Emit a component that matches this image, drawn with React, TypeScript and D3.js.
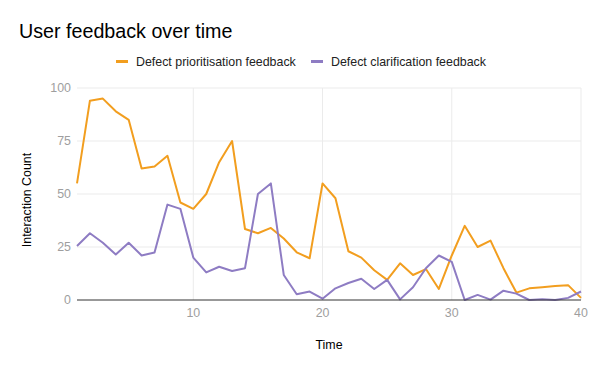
import React, { useEffect, useRef } from "react";
import * as d3 from "d3";

const times = d3.range(1, 41);
const prioritisation = [55, 94, 95, 89, 85, 62, 63, 68, 46, 43, 50, 65, 75, 33.5, 31.5, 34, 29, 22.5, 19.7, 55,
  48, 23, 20, 14, 9.5, 17.3, 11.8, 14.6, 5.2, 21, 35, 25, 28, 15, 3.5, 5.5, 6, 6.6, 7, 1];
const clarification = [25.5, 31.5, 27, 21.5, 27, 21, 22.4, 45, 43, 20, 13, 15.7, 13.7, 15, 50, 55, 11.8, 2.7, 4, 0.6,
  5.5, 8, 10, 5.2, 9.5, 0.3, 6, 15, 21, 18, 0, 2.4, 0.2, 4.4, 3, 0, 0.3, 0, 1, 4];
const seriesNames = ["Defect prioritisation feedback", "Defect clarification feedback"];
const seriesColors = ["#f29e1f", "#8e7cc3"];
const yTicks = [0, 25, 50, 75, 100];
const xTicks = [10, 20, 30, 40];

const W = 600;
const H = 371;
const font = "Arial, 'Liberation Sans', sans-serif";

const App = () => {
  const ref = useRef<SVGSVGElement>(null);

  useEffect(() => {
    const svg = d3.select(ref.current);
    svg.selectAll("*").remove();

    const left = 77, right = 581, top = 88, bottom = 300;
    const x = d3.scaleLinear().domain([1, 40]).range([left, right]);
    const y = d3.scaleLinear().domain([0, 100]).range([bottom, top]);

    // title
    svg.append("text")
      .attr("x", 19).attr("y", 38)
      .attr("font-family", font).attr("font-size", 19.7)
      .attr("fill", "#000")
      .text("User feedback over time");

    // legend
    const legendX = [116, 311];
    seriesNames.forEach((name, i) => {
      svg.append("rect")
        .attr("x", legendX[i]).attr("y", 60)
        .attr("width", 12).attr("height", 3)
        .attr("fill", seriesColors[i]);
      svg.append("text")
        .attr("x", legendX[i] + 20).attr("y", 66)
        .attr("font-family", font).attr("font-size", 12.4)
        .attr("fill", "#222")
        .text(name);
    });

    // grid
    svg.append("g").selectAll("line")
      .data(yTicks.filter(d => d > 0))
      .enter().append("line")
      .attr("x1", left).attr("x2", right)
      .attr("y1", d => y(d)).attr("y2", d => y(d))
      .attr("stroke", "#ebebeb").attr("stroke-width", 1);
    svg.append("g").selectAll("line")
      .data(xTicks)
      .enter().append("line")
      .attr("x1", d => x(d)).attr("x2", d => x(d))
      .attr("y1", top).attr("y2", bottom)
      .attr("stroke", "#ebebeb").attr("stroke-width", 1);

    // y tick labels
    svg.append("g").selectAll("text")
      .data(yTicks)
      .enter().append("text")
      .attr("x", 71).attr("y", d => y(d) + 4)
      .attr("text-anchor", "end")
      .attr("font-family", font).attr("font-size", 12.4)
      .attr("fill", "#9e9e9e")
      .text(d => d);

    // x tick labels
    svg.append("g").selectAll("text")
      .data(xTicks)
      .enter().append("text")
      .attr("x", d => x(d)).attr("y", 317)
      .attr("text-anchor", "middle")
      .attr("font-family", font).attr("font-size", 12.4)
      .attr("fill", "#9e9e9e")
      .text(d => d);

    // lines
    const line = d3.line<number>()
      .x((d, i) => x(times[i]))
      .y(d => y(d));
    [prioritisation, clarification].forEach((data, i) => {
      svg.append("path")
        .datum(data)
        .attr("d", line)
        .attr("fill", "none")
        .attr("stroke", seriesColors[i])
        .attr("stroke-width", 2)
        .attr("stroke-linejoin", "round");
    });

    // baseline
    svg.append("line")
      .attr("x1", left).attr("x2", right)
      .attr("y1", y(0)).attr("y2", y(0))
      .attr("stroke", "#333").attr("stroke-width", 1);

    // axis titles
    svg.append("text")
      .attr("x", x(20.5)).attr("y", 349)
      .attr("text-anchor", "middle")
      .attr("font-family", font).attr("font-size", 12.4)
      .attr("fill", "#000")
      .text("Time");
    svg.append("text")
      .attr("transform", `translate(31,200) rotate(-90)`)
      .attr("text-anchor", "middle")
      .attr("font-family", font).attr("font-size", 12.4)
      .attr("fill", "#000")
      .text("Interaction Count");
  }, []);

  return (
    <svg ref={ref} width={W} height={H}
      style={{ position: "absolute", left: 0, top: 0, background: "#fff" }} />
  );
};

export default App;
